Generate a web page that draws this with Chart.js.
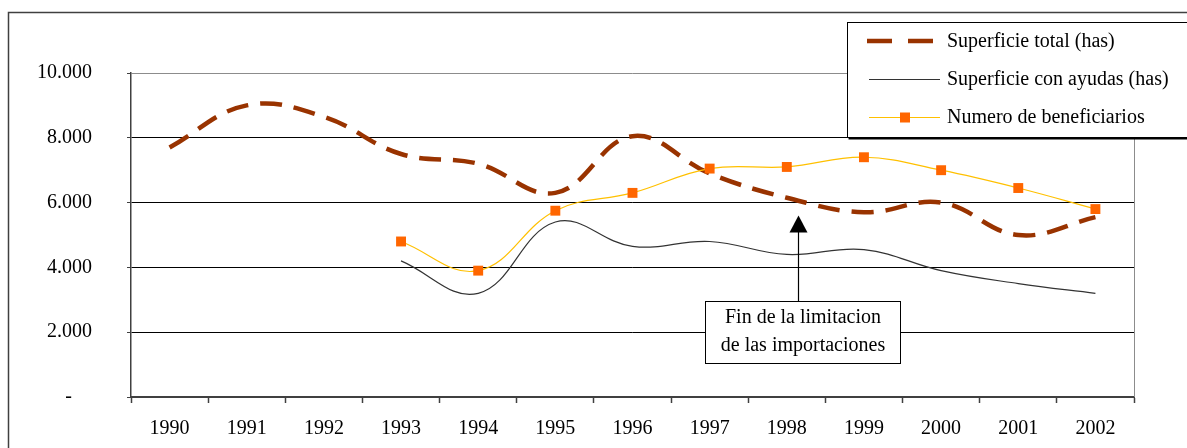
<!DOCTYPE html>
<html>
<head>
<meta charset="utf-8">
<script src="https://cdn.jsdelivr.net/npm/chart.js@4.4.0/dist/chart.umd.min.js"></script>
<style>
  html, body { margin: 0; padding: 0; background: #ffffff; }
  #wrap { width: 1187px; height: 448px; position: relative; }
</style>
</head>
<body>
<div id="wrap"><canvas id="c" width="1187" height="448"></canvas></div>
<script>
const years = ['1990','1991','1992','1993','1994','1995','1996','1997','1998','1999','2000','2001','2002'];
const superficieTotal = [7700, 9000, 8650, 7500, 7200, 6300, 8050, 6900, 6150, 5700, 6000, 5000, 5550];
const superficieAyudas = [null, null, null, 4200, 3200, 5400, 4650, 4800, 4400, 4550, 3900, 3500, 3200];
const beneficiarios = [null, null, null, 4800, 3900, 5750, 6300, 7050, 7100, 7400, 7000, 6450, 5800];
const yTicks = [0, 2000, 4000, 6000, 8000, 10000];
const seriesNames = ['Superficie total (has)', 'Superficie con ayudas (has)', 'Numero de beneficiarios'];
const annotationLines = ['Fin de la limitacion', 'de las importaciones'];
const annotationYear = 8.15;   // position on category axis (index), just right of 1998
const annotationTip = 5600;     // value where arrow tip points
const annotationBoxTop = 2960;  // value at top of text box

const FONT = '"Liberation Serif", "Times New Roman", serif';

function fmt(v) {
  if (v === 0) return '-    ';
  return String(v).replace(/\B(?=(\d{3})+(?!\d))/g, '.');
}

const decor = {
  id: 'decor',
  beforeDraw(chart) {
    const ctx = chart.ctx;
    ctx.save();
    ctx.fillStyle = '#ffffff';
    ctx.fillRect(0, 0, chart.width, chart.height);
    ctx.strokeStyle = '#404040';
    ctx.lineWidth = 1.5;
    ctx.beginPath();
    ctx.moveTo(8.5, 460);
    ctx.lineTo(8.5, 12.5);
    ctx.lineTo(1200, 12.5);
    ctx.stroke();
    ctx.restore();
  },
  beforeDatasetsDraw(chart) {
    const ctx = chart.ctx, a = chart.chartArea;
    ctx.save();
    ctx.strokeStyle = '#8c8c8c';
    ctx.lineWidth = 1;
    ctx.beginPath();
    ctx.moveTo(Math.round(a.right) + 0.5, a.top);
    ctx.lineTo(Math.round(a.right) + 0.5, a.bottom);
    ctx.stroke();
    ctx.restore();
  },
  afterDraw(chart) {
    const ctx = chart.ctx;
    const xs = chart.scales.x, ys = chart.scales.y;
    ctx.save();
    // ---- annotation arrow + box
    const ax = Math.round(xs.getPixelForValue(annotationYear)) + 0.5;
    const tipY = ys.getPixelForValue(annotationTip);
    const boxTop = Math.round(ys.getPixelForValue(annotationBoxTop)) + 0.5;
    const boxH = 62, boxL = Math.round(ax - 94) + 0.5, boxW = 195;
    ctx.strokeStyle = '#000000';
    ctx.lineWidth = 1.2;
    ctx.beginPath();
    ctx.moveTo(ax, boxTop);
    ctx.lineTo(ax, tipY + 14);
    ctx.stroke();
    ctx.fillStyle = '#000000';
    ctx.beginPath();
    ctx.moveTo(ax, tipY);
    ctx.lineTo(ax - 9, tipY + 17);
    ctx.lineTo(ax + 9, tipY + 17);
    ctx.closePath();
    ctx.fill();
    ctx.fillStyle = '#ffffff';
    ctx.fillRect(boxL, boxTop, boxW, boxH);
    ctx.lineWidth = 1;
    ctx.strokeRect(boxL, boxTop, boxW, boxH);
    ctx.fillStyle = '#000000';
    ctx.font = '20px ' + FONT;
    ctx.textAlign = 'center';
    ctx.textBaseline = 'middle';
    ctx.fillText(annotationLines[0], boxL + boxW / 2, boxTop + 16);
    ctx.fillText(annotationLines[1], boxL + boxW / 2, boxTop + 44);

    // ---- legend
    const lx = 847.5, ly = 22.5, lw = 360, lh = 115;
    ctx.fillStyle = '#ffffff';
    ctx.fillRect(lx, ly, lw, lh);
    ctx.strokeStyle = '#000000';
    ctx.lineWidth = 1;
    ctx.strokeRect(lx, ly, lw, lh);
    ctx.lineWidth = 2;
    ctx.beginPath();
    ctx.moveTo(lx + 1, ly + lh + 1);
    ctx.lineTo(lx + lw, ly + lh + 1);
    ctx.stroke();

    const rows = [41, 79, 117];
    const ds = chart.data.datasets;
    // row 1 dashed
    ctx.strokeStyle = ds[0].borderColor;
    ctx.lineWidth = ds[0].borderWidth;
    ctx.setLineDash([25, 16]);
    ctx.beginPath();
    ctx.moveTo(867, rows[0]);
    ctx.lineTo(933, rows[0]);
    ctx.stroke();
    ctx.setLineDash([]);
    // row 2 solid
    ctx.strokeStyle = ds[1].borderColor;
    ctx.lineWidth = 1.2;
    ctx.beginPath();
    ctx.moveTo(869, rows[1] + 0.5);
    ctx.lineTo(940, rows[1] + 0.5);
    ctx.stroke();
    // row 3 line + marker
    ctx.strokeStyle = ds[2].borderColor;
    ctx.beginPath();
    ctx.moveTo(869, rows[2] + 0.5);
    ctx.lineTo(940, rows[2] + 0.5);
    ctx.stroke();
    ctx.fillStyle = ds[2].pointBackgroundColor;
    ctx.fillRect(900, rows[2] - 4.5, 10, 10);

    ctx.fillStyle = '#000000';
    ctx.font = '20px ' + FONT;
    ctx.textAlign = 'left';
    ctx.textBaseline = 'middle';
    for (let i = 0; i < 3; i++) ctx.fillText(seriesNames[i], 947, rows[i] + 1);
    ctx.restore();
  }
};

new Chart(document.getElementById('c'), {
  type: 'line',
  data: {
    labels: years,
    datasets: [
      {
        label: seriesNames[0],
        data: superficieTotal,
        borderColor: '#993300',
        backgroundColor: '#993300',
        borderWidth: 4.5,
        borderDash: [22, 12],
        pointRadius: 0,
        tension: 0.4,
        order: 3
      },
      {
        label: seriesNames[1],
        data: superficieAyudas,
        borderColor: '#333333',
        backgroundColor: '#333333',
        borderWidth: 1.2,
        pointRadius: 0,
        tension: 0.4,
        order: 2
      },
      {
        label: seriesNames[2],
        data: beneficiarios,
        borderColor: '#FFC000',
        backgroundColor: '#FF6600',
        borderWidth: 1.2,
        pointStyle: 'rect',
        pointRadius: 7,
        pointBackgroundColor: '#FF6600',
        pointBorderColor: '#FF6600',
        pointBorderWidth: 0,
        tension: 0.4,
        order: 1
      }
    ]
  },
  options: {
    responsive: false,
    animation: false,
    events: [],
    layout: { padding: { left: 0, top: 73, right: 53, bottom: 0 } },
    plugins: {
      legend: { display: false },
      tooltip: { enabled: false },
      title: { display: false }
    },
    scales: {
      x: {
        type: 'category',
        offset: true,
        afterFit(scale) { scale.height = 51; },
        grid: {
          offset: true,
          drawOnChartArea: false,
          drawTicks: true,
          tickLength: 6,
          tickColor: '#404040',
          tickWidth: 1.5
        },
        border: { display: true, color: '#404040', width: 2 },
        ticks: {
          color: '#000000',
          font: { family: FONT, size: 20 },
          padding: 14,
          maxRotation: 0,
          autoSkip: false
        }
      },
      y: {
        min: 0,
        max: 10000,
        afterFit(scale) { scale.width = 131; },
        afterBuildTicks(scale) { scale.ticks = yTicks.map(v => ({ value: v })); },
        grid: {
          drawTicks: true,
          tickLength: 4,
          color(ctx) {
            if (!ctx.tick) return '#000000';
            if (ctx.tick.value === 0) return 'rgba(0,0,0,0)';
            if (ctx.tick.value === 10000) return '#8c8c8c';
            return '#000000';
          },
          tickColor: '#404040',
          lineWidth: 1
        },
        border: { display: true, color: '#404040', width: 1.5 },
        ticks: {
          color: '#000000',
          font: { family: FONT, size: 20 },
          padding: 35,
          callback: (v) => fmt(v)
        }
      }
    }
  },
  plugins: [decor]
});
</script>
</body>
</html>
